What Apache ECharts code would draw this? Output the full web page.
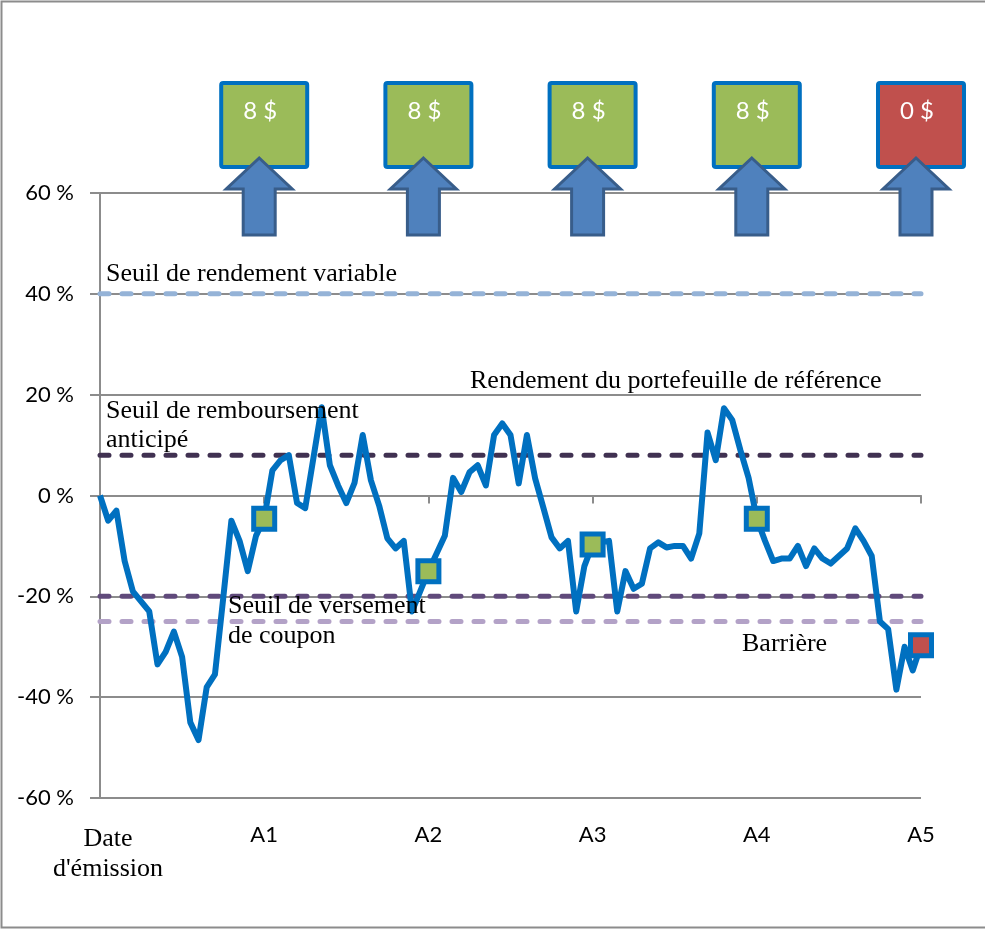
<!DOCTYPE html>
<html>
<head>
<meta charset="utf-8">
<script src="https://cdn.jsdelivr.net/npm/echarts@6/dist/echarts.min.js"></script>
<style>
  html, body { margin: 0; padding: 0; background: #fff; }
  #chart { width: 985px; height: 930px; }
</style>
</head>
<body>
<div id="chart"></div>
<script>
// axe des x : 20 pas par année, 0 = date d'émission
const annees = ["Date\nd'émission", 'A1', 'A2', 'A3', 'A4', 'A5']
const pasParAnnee = 20

// rendement du portefeuille de référence (%)
const rendement = [
  0, -5, -3, -13, -19, -21, -23, -33.5, -31, -27,
  -32, -45, -48.5, -38, -35.5, -20.5, -5, -9, -15, -8,
  -4.6, 5, 7, 8, -1.5, -2.5, 7.5, 17.5, 6, 2,
  -1.5, 2.5, 12, 3, -2, -8.5, -10.5, -9, -23, -19,
  -15, -11.5, -8, 3.5, 0.7, 4.6, 6, 2, 12, 14.3,
  12, 2.4, 12, 3.4, -2.4, -8.3, -10.5, -9, -23, -14,
  -9.7, -9.3, -9, -23, -15, -18.5, -17.5, -10.5, -9.3, -10.3,
  -10, -10, -12.5, -7.5, 12.5, 7, 17.3, 15, 9, 3.5,
  -4.6, -9, -13, -12.5, -12.5, -10, -14, -10.5, -12.5, -13.5,
  -12, -10.5, -6.5, -9, -12, -25, -26.5, -38.5, -30, -34.7,
  -29.7
]

// dates d'observation et coupons versés
const observations = [20, 40, 60, 80, 100]
const coupons = ['8 $', '8 $', '8 $', '8 $', '0 $']
const couleursCoupon = ['#9BBB59', '#9BBB59', '#9BBB59', '#9BBB59', '#C0504D']

// seuils horizontaux (%)
const seuilNoms = ['rendement variable', 'remboursement anticipé', 'versement de coupon', 'barrière']
const seuilValeurs = [40, 8, -20, -25]
const seuilCouleurs = ['#95B3D7', '#403151', '#604A7B', '#B3A2C7']

const yMin = -60, yMax = 60, yPas = 20

const serif = '"Liberation Serif", "DejaVu Serif", serif'
const sans = 'Lato, "Noto Sans", sans-serif'
const gris = '#8c8c8c'

const chart = echarts.init(document.getElementById('chart'))

const seuilSeries = seuilValeurs.map((v, k) => ({
  type: 'line',
  name: seuilNoms[k],
  data: [[0, v], [(annees.length - 1) * pasParAnnee, v]],
  symbol: 'none',
  silent: true,
  z: 2,
  lineStyle: { color: seuilCouleurs[k], width: 5, type: [9, 13], cap: 'round' }
}))

function dessineCoupon(params, api) {
  const pt = api.coord([api.value(0), yMax])
  const k = api.value(1)
  const tx = pt[0], top = pt[1]
  const cx = tx - 5
  return {
    type: 'group',
    children: [
      {
        type: 'rect',
        shape: { x: tx - 43, y: top - 110, width: 86, height: 84, r: 2 },
        style: { fill: couleursCoupon[k], stroke: '#0070C0', lineWidth: 4 }
      },
      {
        type: 'text',
        style: {
          text: coupons[k], x: tx - 4, y: top - 82,
          font: '24px ' + sans, fill: '#fff', align: 'center', verticalAlign: 'middle'
        }
      },
      {
        type: 'polygon',
        shape: {
          points: [
            [cx, top - 35], [cx + 33, top - 4], [cx + 16, top - 4], [cx + 16, top + 42],
            [cx - 16, top + 42], [cx - 16, top - 4], [cx - 33, top - 4]
          ]
        },
        style: { fill: '#4F81BD', stroke: '#385D8A', lineWidth: 3 }
      }
    ]
  }
}

const option = {
  animation: false,
  backgroundColor: '#fff',
  grid: { left: 100, right: 64, top: 193, bottom: 132 },
  xAxis: {
    type: 'value',
    min: 0,
    max: (annees.length - 1) * pasParAnnee,
    interval: pasParAnnee,
    splitLine: { show: false },
    axisLine: { lineStyle: { color: gris, width: 2 } },
    axisTick: { length: 8, lineStyle: { color: gris, width: 2 } },
    axisLabel: {
      margin: 26,
      color: '#000',
      fontFamily: sans,
      fontSize: 22,
      formatter: v => {
        const i = Math.round(v / pasParAnnee)
        if (i === 0) return annees[0].split('\n').map(s => '{s|' + s + '}').join('\n')
        return annees[i]
      },
      rich: {
        s: { fontFamily: serif, fontSize: 26, lineHeight: 30, color: '#000', padding: [0, 0, 0, 16] }
      }
    }
  },
  yAxis: {
    type: 'value',
    min: yMin,
    max: yMax,
    interval: yPas,
    axisLine: { show: true, lineStyle: { color: gris, width: 2 } },
    axisTick: { show: true, length: 10, lineStyle: { color: gris, width: 2 } },
    splitLine: { lineStyle: { color: gris, width: 2 } },
    axisLabel: {
      margin: 26,
      color: '#000',
      fontFamily: sans,
      fontSize: 22,
      formatter: v => v + ' %'
    }
  },
  series: [
    ...seuilSeries,
    {
      type: 'line',
      name: 'Rendement',
      data: rendement.map((v, i) => [i, v]),
      symbol: 'none',
      z: 3,
      lineStyle: { color: '#0070C0', width: 6, join: 'round' }
    },
    {
      type: 'scatter',
      name: 'Observations',
      data: observations.map((o, k) => ({
        value: [o, rendement[o]],
        itemStyle: { color: couleursCoupon[k] }
      })),
      symbol: 'rect',
      symbolSize: 21,
      z: 4,
      itemStyle: { borderColor: '#0070C0', borderWidth: 5, opacity: 1 }
    },
    {
      type: 'custom',
      name: 'Coupons',
      data: observations.map((o, k) => [o, k]),
      renderItem: dessineCoupon,
      clip: false,
      silent: true,
      z: 5
    }
  ],
  graphic: [
    {
      type: 'rect',
      shape: { x: 1.5, y: 1.5, width: 1000, height: 926 },
      style: { fill: 'none', stroke: gris, lineWidth: 2 },
      silent: true
    },
    {
      type: 'text', left: 106, top: 261, z: 10,
      style: { text: 'Seuil de rendement variable', font: '26px ' + serif, fill: '#000' }
    },
    {
      type: 'text', left: 470, top: 368, z: 10,
      style: { text: 'Rendement du portefeuille de référence', font: '26px ' + serif, fill: '#000' }
    },
    {
      type: 'text', left: 106, top: 397, z: 10,
      style: { text: 'Seuil de remboursement\nanticipé', font: '26px ' + serif, fill: '#000', lineHeight: 29 }
    },
    {
      type: 'text', left: 228, top: 591, z: 10,
      style: { text: 'Seuil de versement\nde coupon', font: '26px ' + serif, fill: '#000', lineHeight: 30 }
    },
    {
      type: 'text', left: 742, top: 631, z: 10,
      style: { text: 'Barrière', font: '26px ' + serif, fill: '#000' }
    }
  ]
}

chart.setOption(option)
</script>
</body>
</html>
